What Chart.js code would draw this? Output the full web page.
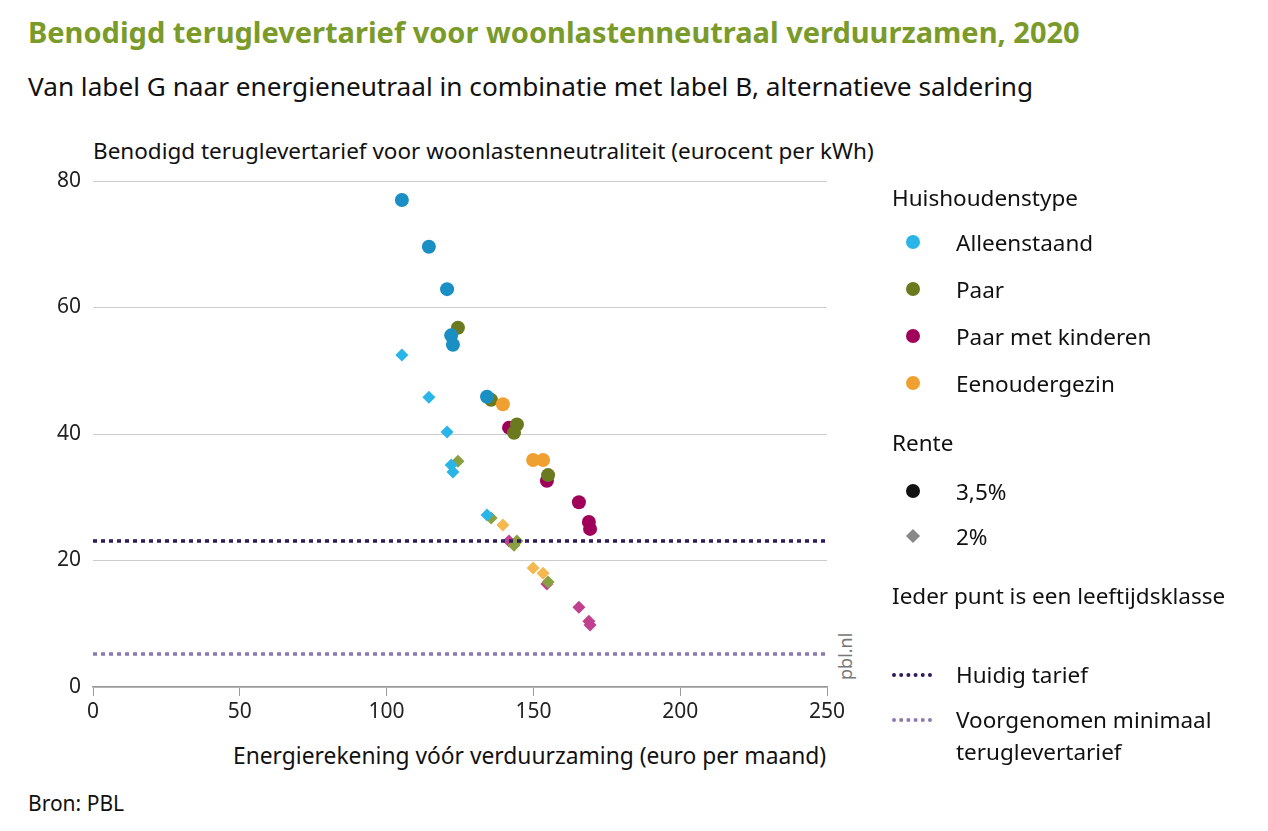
<!DOCTYPE html>
<html><head><meta charset="utf-8">
<script src="https://cdn.jsdelivr.net/npm/chart.js@4"></script>
<style>
body{margin:0;width:1268px;height:831px;background:#fff;font-family:"Noto Sans",sans-serif;color:#111;position:relative;overflow:hidden}
#wrap{position:absolute;left:0;top:0;width:1268px;height:831px}
.t{position:absolute;white-space:nowrap}
.leg{position:absolute;left:892px;font-size:22.5px;white-space:nowrap}
.dot{display:inline-block;width:14px;height:14px;border-radius:50%;position:absolute;left:14px;top:8px}
.dia{display:inline-block;width:10px;height:10px;transform:rotate(45deg);position:absolute;left:16px;top:10px;background:#888}
.dash{position:absolute;left:0;top:14px;width:40px;border-top:4px dotted}
</style></head>
<body>
<div class="t" style="left:28px;top:12px;font-size:29px;font-weight:bold;color:#7a9a2a">Benodigd teruglevertarief voor woonlastenneutraal verduurzamen, 2020</div>
<div class="t" style="left:28px;top:68px;font-size:26.2px">Van label G naar energieneutraal in combinatie met label B, alternatieve saldering</div>
<div class="t" style="left:93px;top:135px;font-size:22.5px">Benodigd teruglevertarief voor woonlastenneutraliteit (eurocent per kWh)</div>
<div class="t" style="left:233px;top:740px;font-size:22.8px">Energierekening vóór verduurzaming (euro per maand)</div>
<div class="t" style="left:28px;top:789px;font-size:21px">Bron: PBL</div>
<div class="t" style="left:833px;top:680px;font-size:18px;color:#777;transform:rotate(-90deg);transform-origin:left top">pbl.nl</div>
<div id="wrap"><canvas id="c" width="1268" height="831"></canvas></div>
<div class="leg" style="top:182px">Huishoudenstype</div>
<div class="leg" style="top:227px"><span class="dot" style="background:#29b5e8"></span><span style="margin-left:64px">Alleenstaand</span></div>
<div class="leg" style="top:274px"><span class="dot" style="background:#6b7a1f"></span><span style="margin-left:64px">Paar</span></div>
<div class="leg" style="top:321px"><span class="dot" style="background:#a0005a"></span><span style="margin-left:64px">Paar met kinderen</span></div>
<div class="leg" style="top:368px"><span class="dot" style="background:#f0a030"></span><span style="margin-left:64px">Eenoudergezin</span></div>
<div class="leg" style="top:427px">Rente</div>
<div class="leg" style="top:476px"><span class="dot" style="background:#111"></span><span style="margin-left:64px">3,5%</span></div>
<div class="leg" style="top:521px"><span class="dia"></span><span style="margin-left:64px">2%</span></div>
<div class="leg" style="top:580px">Ieder punt is een leeftijdsklasse</div>
<div class="leg" style="top:659px"><span class="dash" style="border-color:#2d1a5a"></span><span style="margin-left:64px">Huidig tarief</span></div>
<div class="leg" style="top:704px;line-height:32px"><span class="dash" style="border-color:#8a78b0"></span><span style="margin-left:64px;display:inline-block;vertical-align:top">Voorgenomen minimaal<br>teruglevertarief</span></div>
<script>
// 3,5% rente (rondjes) en 2% rente (ruiten)
const alleenX = [105.2, 114.4, 120.6, 122.0, 122.6, 134.2];
const alleenY35 = [77.0, 69.6, 62.9, 55.6, 54.1, 45.9];
const alleenY2 = [52.5, 45.8, 40.3, 35.1, 34.0, 27.2];
const paarX = [124.3, 135.6, 144.4, 143.4, 155.0];
const paarY35 = [56.8, 45.4, 41.5, 40.2, 33.5];
const paarY2 = [35.7, 26.7, 23.1, 22.4, 16.6];
const kindX = [141.7, 154.6, 165.5, 168.9, 169.3];
const kindY35 = [41.0, 32.6, 29.2, 26.1, 25.0];
const kindY2 = [23.1, 16.3, 12.6, 10.4, 9.8];
const eenX = [139.6, 149.9, 153.3];
const eenY35 = [44.7, 35.9, 35.9];
const eenY2 = [25.6, 18.8, 18.0];
const huidigTarief = 23.1;
const minimaalTarief = 5.2;
const xTicks = [0, 50, 100, 150, 200, 250];

const pts = (xs, ys) => xs.map((x, i) => ({x: x, y: ys[i]}));
const sc = (label, xs, ys, color, style) => ({
    type: 'scatter', label: label, data: pts(xs, ys),
    pointStyle: style, backgroundColor: color, borderColor: color, borderWidth: 0,
    pointRadius: style === 'circle' ? 7 : 6.5
});
const hline = (y, color) => ({
    type: 'line', data: [{x: 0, y: y}, {x: 250, y: y}],
    borderColor: color, borderWidth: 3.5, borderDash: [4, 4], pointRadius: 0
});

new Chart(document.getElementById('c'), {
    data: {
        datasets: [
            hline(huidigTarief, '#2d1a5a'),
            hline(minimaalTarief, '#8a78b0'),
            sc('Alleenstaand 2%', alleenX, alleenY2, '#29b5e8', 'rectRot'),
            sc('Paar 2%', paarX, paarY2, '#8aa040', 'rectRot'),
            sc('Eenoudergezin 2%', eenX, eenY2, '#f5b850', 'rectRot'),
            sc('Paar met kinderen 2%', kindX, kindY2, '#c04090', 'rectRot'),
            sc('Alleenstaand 3,5%', alleenX, alleenY35, '#1a8fc3', 'circle'),
            sc('Eenoudergezin 3,5%', eenX, eenY35, '#f0a030', 'circle'),
            sc('Paar 3,5%', paarX, paarY35, '#6b7a1f', 'circle'),
            sc('Paar met kinderen 3,5%', kindX, kindY35, '#a0005a', 'circle')
        ]
    },
    options: {
        responsive: false, animation: false,
        layout: {padding: {top: 181, right: 441, left: 0, bottom: 0}},
        plugins: {legend: {display: false}, tooltip: {enabled: false}},
        scales: {
            x: {
                type: 'linear', min: 0, max: 250,
                afterFit: s => { s.height = 144; },
                afterBuildTicks: s => { s.ticks = xTicks.map(v => ({value: v})); },
                border: {display: true, color: '#999', width: 1.5},
                grid: {drawOnChartArea: false, tickLength: 9, color: '#999'},
                ticks: {color: '#222', font: {size: 21, family: 'Noto Sans'}, padding: 3}
            },
            y: {
                min: 0, max: 80,
                afterFit: s => { s.width = 93; },
                border: {display: false},
                grid: {color: '#ccc', drawTicks: false},
                ticks: {stepSize: 20, color: '#222', font: {size: 21, family: 'Noto Sans'}, padding: 12}
            }
        }
    }
});
</script>
</body></html>
